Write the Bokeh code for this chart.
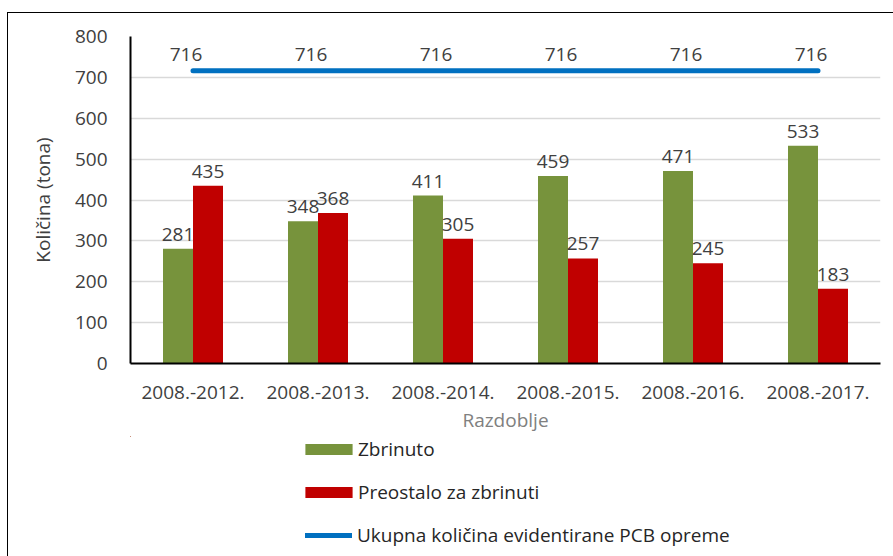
from bokeh.plotting import figure
from bokeh.models import ColumnDataSource, Legend, LegendItem, FixedTicker, LabelSet, InlineStyleSheet
from bokeh.layouts import column
from bokeh.transform import dodge
from bokeh.core.properties import value
from bokeh.embed import file_html
from bokeh.resources import INLINE

categories = ["2008.-2012.", "2008.-2013.", "2008.-2014.", "2008.-2015.", "2008.-2016.", "2008.-2017."]
zbrinuto = [281, 348, 411, 459, 471, 533]
preostalo = [435, 368, 305, 257, 245, 183]
ukupno = [716, 716, 716, 716, 716, 716]
y_ticks = [0, 100, 200, 300, 400, 500, 600, 700, 800]
series_names = ["Zbrinuto", "Preostalo za zbrinuti", "Ukupna količina evidentirane PCB opreme"]

FONT = "Open Sans"
FS = "19px"
GREEN, RED, BLUE = "#77933C", "#C00000", "#0070C0"
TOP_H, TOTAL_H, W = 436, 556, 893

src = ColumnDataSource(dict(cat=categories, z=zbrinuto, p=preostalo, u=ukupno,
                            zl=[str(v) for v in zbrinuto], pl=[str(v) for v in preostalo],
                            ul=[str(v) for v in ukupno]))

p = figure(x_range=categories, y_range=(0, 800), width=W, height=TOP_H,
           output_backend="svg", toolbar_location=None,
           min_border_left=130, min_border_top=36, min_border_right=13, min_border_bottom=TOP_H - 363)
p.outline_line_color = None
p.background_fill_color = "white"
p.border_fill_color = "white"

p.vbar(x=dodge("cat", -0.12, range=p.x_range), top="z", width=0.24, source=src,
       fill_color=GREEN, line_color=None)
p.vbar(x=dodge("cat", 0.12, range=p.x_range), top="p", width=0.24, source=src,
       fill_color=RED, line_color=None)
p.line(x="cat", y="u", source=src, line_color=BLUE, line_width=5, line_cap="round")

lbl_kw = dict(source=src, text_font=value(FONT), text_font_size=FS, text_color="#404040",
              text_align="center", text_baseline="bottom")
p.add_layout(LabelSet(x=dodge("cat", -0.12, range=p.x_range), y="z", text="zl", y_offset=8, **lbl_kw))
p.add_layout(LabelSet(x=dodge("cat", 0.12, range=p.x_range), y="p", text="pl", y_offset=8, **lbl_kw))
p.add_layout(LabelSet(x="cat", y="u", text="ul", x_offset=-7, y_offset=10, **lbl_kw))

p.yaxis.ticker = FixedTicker(ticks=y_ticks)
for ax in (p.xaxis, p.yaxis):
    ax.axis_line_color = "black"
    ax.axis_line_width = 2
    ax.major_tick_line_color = None
    ax.minor_tick_line_color = None
    ax.major_label_text_font = FONT
    ax.major_label_text_font_size = FS
    ax.major_label_text_color = "#404040"
    ax.axis_label_text_font = FONT
    ax.axis_label_text_font_size = FS
    ax.axis_label_text_font_style = "normal"
p.xaxis.major_label_standoff = 16
p.yaxis.major_label_standoff = 17
p.xaxis.axis_label = "Razdoblje"
p.xaxis.axis_label_text_color = "#808080"
p.xaxis.axis_label_standoff = 5
p.yaxis.axis_label = "Količina (tona)"
p.yaxis.axis_label_text_color = "#404040"
p.yaxis.axis_label_standoff = 16

p.xgrid.grid_line_color = None
p.ygrid.grid_line_color = "#D9D9D9"
p.ygrid.grid_line_width = 1.5
p.x_range.range_padding = 0

# legend strip below the chart (its sample glyphs lie outside its visible ranges)
lg = figure(width=W, height=TOTAL_H - TOP_H, x_range=categories, y_range=(0, 1),
            output_backend="svg", toolbar_location=None,
            x_axis_location=None, y_axis_location=None,
            min_border_left=0, min_border_right=0, min_border_top=0, min_border_bottom=0)
lg.outline_line_color = None
lg.grid.grid_line_color = None
lg.background_fill_color = "white"
lg.border_fill_color = "white"
far = dodge("cat", -50, range=lg.x_range)
rz = lg.vbar(x=far, top="z", bottom="u", width=0.1, source=src, fill_color=GREEN, line_color=None)
rp = lg.vbar(x=far, top="p", bottom="u", width=0.1, source=src, fill_color=RED, line_color=None)
ru = lg.line(x=far, y="u", source=src, line_color=BLUE, line_width=5, line_cap="round")

leg_kw = dict(orientation="vertical", border_line_color=None, background_fill_alpha=0,
              padding=0, margin=0, label_height=20,
              label_text_font=FONT, label_text_font_size=FS, label_text_color="#262626")
leg1 = Legend(items=[LegendItem(label=series_names[0], renderers=[rz]),
                     LegendItem(label=series_names[1], renderers=[rp])],
              location=(169, 51), spacing=17, glyph_width=59, glyph_height=14, label_standoff=0, **leg_kw)
leg2 = Legend(items=[LegendItem(label=series_names[2], renderers=[ru])],
              location=(175, 8), glyph_width=47, glyph_height=14, label_standoff=5, **leg_kw)
lg.add_layout(leg1, "center")
lg.add_layout(leg2, "center")

layout = column(p, lg, spacing=0)
layout.stylesheets = [InlineStyleSheet(css=":host::after { content: ''; position: absolute; left: 7px; top: 12px; "
                                           "right: 0; bottom: 0; border-left: 1px solid black; "
                                           "border-top: 1px solid black; pointer-events: none; }")]

open("out.html", "w").write(file_html(layout, INLINE))
